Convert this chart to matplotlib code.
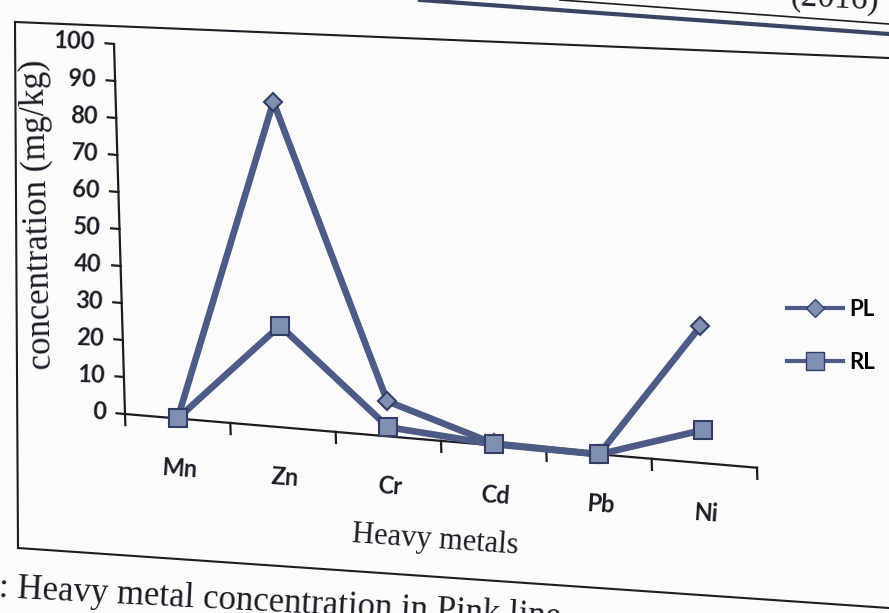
import numpy as np
import matplotlib
matplotlib.use('Agg')
import matplotlib.pyplot as plt
from matplotlib.transforms import Affine2D
from matplotlib.lines import Line2D

# heavy metal concentration (mg/kg) at the two sites
metals = ['Mn', 'Zn', 'Cr', 'Cd', 'Pb', 'Ni']
pl = [0, 88, 9.5, 0.5, 0, 37]
rl = [0, 27.5, 2.5, 0.3, 0, 9]
yticks = list(range(0, 101, 10))
series_names = ['PL', 'RL']

line_c = '#4d5b86'
face_c = '#8090b2'
edge_c = '#333d66'
ink = '#1c1c24'
tick_font = dict(family=['Lato', 'DejaVu Sans'], weight='bold', size=17)

W, H = 889, 613
fig = plt.figure(figsize=(W / 100, H / 100), dpi=100, facecolor='#fbfbfb')

# plot box in pixels (origin = left end of the zero line)
x0, y0 = 125, H - 414
ax = fig.add_axes([x0 / W, y0 / H, 632 / W, 370 / H])
ax.set_xlim(0.5, 6.5)
ax.set_ylim(0, 100)
ax.axis('off')

# the page sits at a slant, so shear the whole plot about the origin
k, s = 0.0297, 0.085
slant = Affine2D(np.array([[1, -k, k * y0], [-s, 1, s * x0], [0, 0, 1]]))
T = ax.transData + slant

def seg(xs, ys, **kw):
    ax.plot(xs, ys, color=ink, lw=1.6, transform=T, clip_on=False, **kw)

# axes, ticks
seg([0.5, 6.5], [0, 0])
seg([0.5, 0.5], [-3, 100])
for v in yticks:
    seg([0.42, 0.5], [v, v])
    ax.text(0.32, v, str(v), transform=T, ha='right', va='center',
            rotation=-2, rotation_mode='anchor', color=ink, **tick_font)
for b in np.arange(1.5, 7):
    seg([b, b], [0, -3])

xs = np.arange(1, len(metals) + 1)
for x, m in zip(xs, metals):
    ax.text(x, -13.5, m, transform=T, ha='center', va='center',
            rotation=-4, rotation_mode='anchor', color=ink, **tick_font)

ax.plot(xs, pl, color=line_c, lw=4.8, marker='D', ms=9, mfc=face_c, mec=edge_c,
        mew=1.5, transform=T, clip_on=False, zorder=3)
ax.plot(xs, rl, color=line_c, lw=4.8, marker='s', ms=13, mfc=face_c, mec=edge_c,
        mew=1.5, transform=T, clip_on=False, zorder=4)

ax.text(3.42, -27, 'Heavy metals', transform=T, ha='center', va='center',
        rotation=-4, rotation_mode='anchor', family='Liberation Serif',
        fontsize=22, color=ink)
ax.text(-0.27, 52, 'concentration (mg/kg)', transform=T, ha='center', va='center',
        rotation=91.5, rotation_mode='anchor', family='Liberation Serif',
        fontsize=25, color=ink)

handles = [Line2D([], [], color=line_c, lw=3, marker='D', ms=9, mfc=face_c, mec=edge_c),
           Line2D([], [], color=line_c, lw=3, marker='s', ms=13, mfc=face_c, mec=edge_c)]
fig.legend(handles, series_names, loc='center left', bbox_to_anchor=(776 / W, 1 - 336 / H),
           frameon=False, numpoints=1, handlelength=2.5, handletextpad=0.3,
           labelspacing=1.45, borderpad=0, prop=dict(family='Lato', weight='bold', size=16))

# page furniture around the figure: frame, header rules, caption
def page_line(p, q, lw=1.5, color=ink):
    fig.add_artist(Line2D([p[0] / W, q[0] / W], [1 - p[1] / H, 1 - q[1] / H],
                          color=color, lw=lw))

page_line((15, 22), (18, 548))
page_line((15, 22), (889, 58))
page_line((18, 548), (889, 608))
page_line((420, 0), (889, 34), lw=3, color='#3a4566')
page_line((560, 0), (889, 24), lw=1.2)

fig.text(835 / W, 1 - 9 / H, '(2016)', ha='center', va='baseline', rotation=-3,
         family='Liberation Serif', fontsize=24, color=ink)
fig.text(0, 1 - 572 / H, ': Heavy metal concentration in Pink line', ha='left', va='top',
         rotation=-3, rotation_mode='anchor', family='Liberation Serif', fontsize=25,
         color=ink)

fig.savefig('out.png', dpi=100, facecolor=fig.get_facecolor())
